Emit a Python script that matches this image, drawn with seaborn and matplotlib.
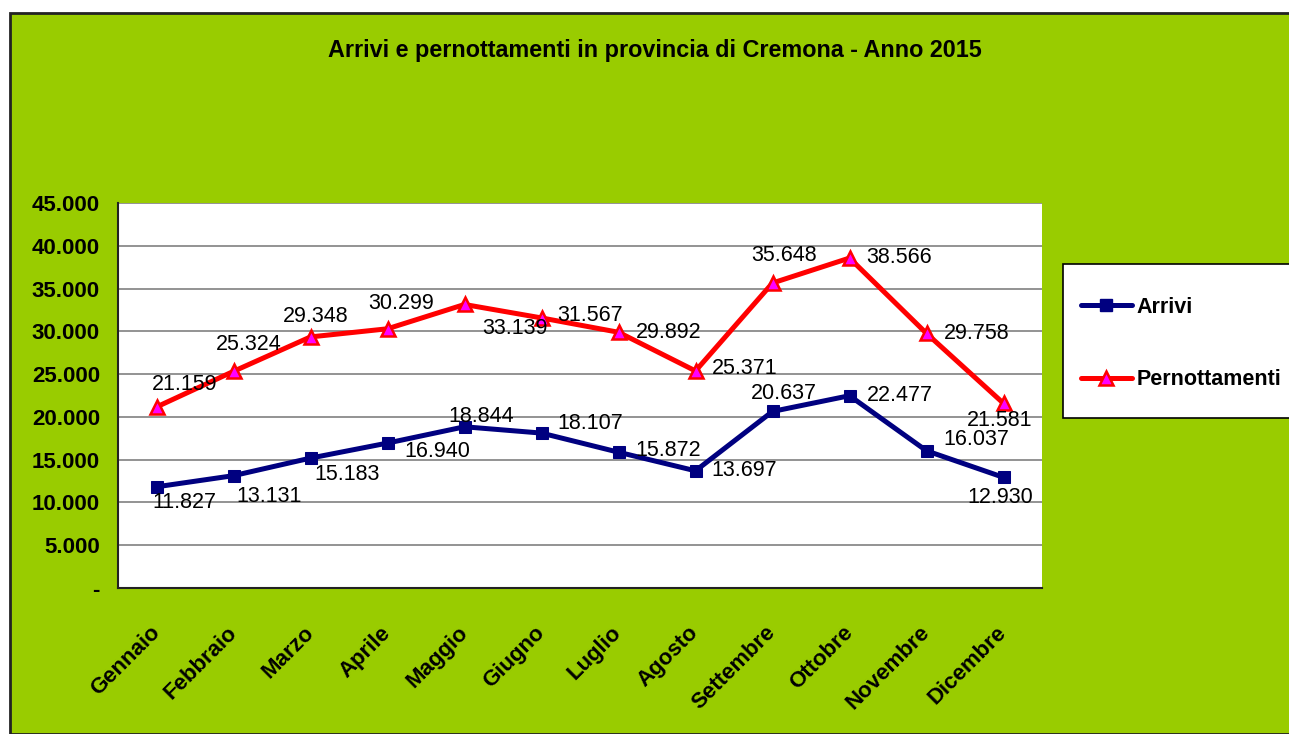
import matplotlib
matplotlib.use("Agg")
import matplotlib.pyplot as plt
import matplotlib.transforms as mtransforms
import pandas as pd
import seaborn as sns
from matplotlib.patches import Rectangle
from matplotlib.lines import Line2D

# data
months = ["Gennaio", "Febbraio", "Marzo", "Aprile", "Maggio", "Giugno",
          "Luglio", "Agosto", "Settembre", "Ottobre", "Novembre", "Dicembre"]
arrivi = [11827, 13131, 15183, 16940, 18844, 18107,
          15872, 13697, 20637, 22477, 16037, 12930]
pernottamenti = [21159, 25324, 29348, 30299, 33139, 31567,
                 29892, 25371, 35648, 38566, 29758, 21581]
y_ticks = [0, 5000, 10000, 15000, 20000, 25000, 30000, 35000, 40000, 45000]

# label offsets in pixels (like Excel's label placement)
arr_off = [(28, -16), (36, -21), (37, -16), (50, -8), (17, 10), (49, 10),
           (50, 2), (49, 0), (11, 18), (50, 0), (50, 11), (-3, -20)]
per_off = [(28, 22), (15, 27), (5, 20), (14, 25), (50, -24), (49, 2),
           (50, 0), (49, 2), (12, 28), (50, 1), (50, 0), (-4, -17)]

GREEN = "#99CC00"
NAVY = "#000080"
RED = "#FF0000"
MAGENTA = "#FF00FF"


def fmt(v):
    return f"{v:,}".replace(",", ".")


df = pd.DataFrame({"idx": range(len(months)), "month": months,
                   "Arrivi": arrivi, "Pernottamenti": pernottamenti})

sns.set_style("white")
plt.rcParams["font.family"] = ["Liberation Sans", "DejaVu Sans"]
plt.rcParams["text.color"] = "black"
plt.rcParams["xtick.color"] = "black"
plt.rcParams["ytick.color"] = "black"

fig = plt.figure(figsize=(12.89, 7.34), dpi=100, facecolor="white")
fig.patches.append(Rectangle((10 / 1289, 0), 1.0, 1 - 13 / 734,
                             transform=fig.transFigure, facecolor=GREEN,
                             edgecolor="#222222", linewidth=2, zorder=-10))

ax = fig.add_axes([118 / 1289, 146 / 734, 924 / 1289, 385 / 734])
ax.set_facecolor("white")

sns.lineplot(data=df, x="idx", y="Arrivi", ax=ax, color=NAVY, linewidth=3.6,
             marker="s", markersize=8.5, markerfacecolor=NAVY,
             markeredgecolor=NAVY, zorder=3)
sns.lineplot(data=df, x="idx", y="Pernottamenti", ax=ax, color=RED,
             linewidth=3.6, marker="^", markersize=10.5,
             markerfacecolor=MAGENTA, markeredgecolor=RED,
             markeredgewidth=1.8, zorder=3)

for i, v in enumerate(arrivi):
    ax.annotate(fmt(v), (i, v), xytext=arr_off[i], textcoords="offset pixels",
                ha="center", va="center", fontsize=15.5, color="black",
                zorder=5)
for i, v in enumerate(pernottamenti):
    ax.annotate(fmt(v), (i, v), xytext=per_off[i], textcoords="offset pixels",
                ha="center", va="center", fontsize=15.5, color="black",
                zorder=5)

ax.set_xlim(-0.5, len(months) - 0.5)
ax.set_ylim(0, 45000)
ax.set_yticks(y_ticks)
ax.set_yticklabels(["-" if t == 0 else fmt(t) for t in y_ticks],
                   fontsize=16, fontweight="bold")
ax.yaxis.grid(True, color="#808080", linewidth=1.2)
ax.set_axisbelow(True)

# major ticks at category boundaries, labels at centres
ax.set_xticks([i - 0.5 for i in range(len(months) + 1)])
ax.set_xticklabels([])
ax.set_xticks(range(len(months)), minor=True)
ax.set_xticklabels(months, minor=True, rotation=45, ha="right", va="center",
                   rotation_mode="anchor", fontsize=16, fontweight="bold")
shift = mtransforms.ScaledTranslation(-8 / 100, 0, fig.dpi_scale_trans)
for lab in ax.get_xticklabels(minor=True):
    lab.set_transform(lab.get_transform() + shift)
ax.tick_params(axis="x", which="major", direction="out", length=7,
               width=1.2, color="#333333")
ax.tick_params(axis="x", which="minor", length=0, pad=30)
ax.tick_params(axis="y", direction="out", length=7, width=1.2,
               color="#333333", pad=6)

ax.set_xlabel("")
ax.set_ylabel("")
for side in ["top", "right"]:
    ax.spines[side].set_visible(False)
for side in ["left", "bottom"]:
    ax.spines[side].set_color("#222222")
    ax.spines[side].set_linewidth(1.5)

fig.text(655 / 1289, 1 - 50 / 734,
         "Arrivi e pernottamenti in provincia di Cremona - Anno 2015",
         ha="center", va="center", fontsize=16.8, fontweight="bold")

# legend box
fig.patches.append(Rectangle((1063 / 1289, 1 - 418 / 734), 0.3, 154 / 734,
                             transform=fig.transFigure, facecolor="white",
                             edgecolor="black", linewidth=1.2, zorder=1))
handles = [
    Line2D([], [], color=NAVY, linewidth=3.6, marker="s", markersize=8.5,
           markerfacecolor=NAVY, markeredgecolor=NAVY),
    Line2D([], [], color=RED, linewidth=3.6, marker="^", markersize=10.5,
           markerfacecolor=MAGENTA, markeredgecolor=RED, markeredgewidth=1.8),
]
leg = fig.legend(handles, ["Arrivi", "Pernottamenti"], loc="upper left",
                 bbox_to_anchor=(1072 / 1289, 1 - 288 / 734), frameon=False,
                 prop={"weight": "bold", "size": 15.5}, handlelength=2.4,
                 handletextpad=0.2, labelspacing=2.4, borderaxespad=0)

fig.savefig("out.png", dpi=100, facecolor="white")
